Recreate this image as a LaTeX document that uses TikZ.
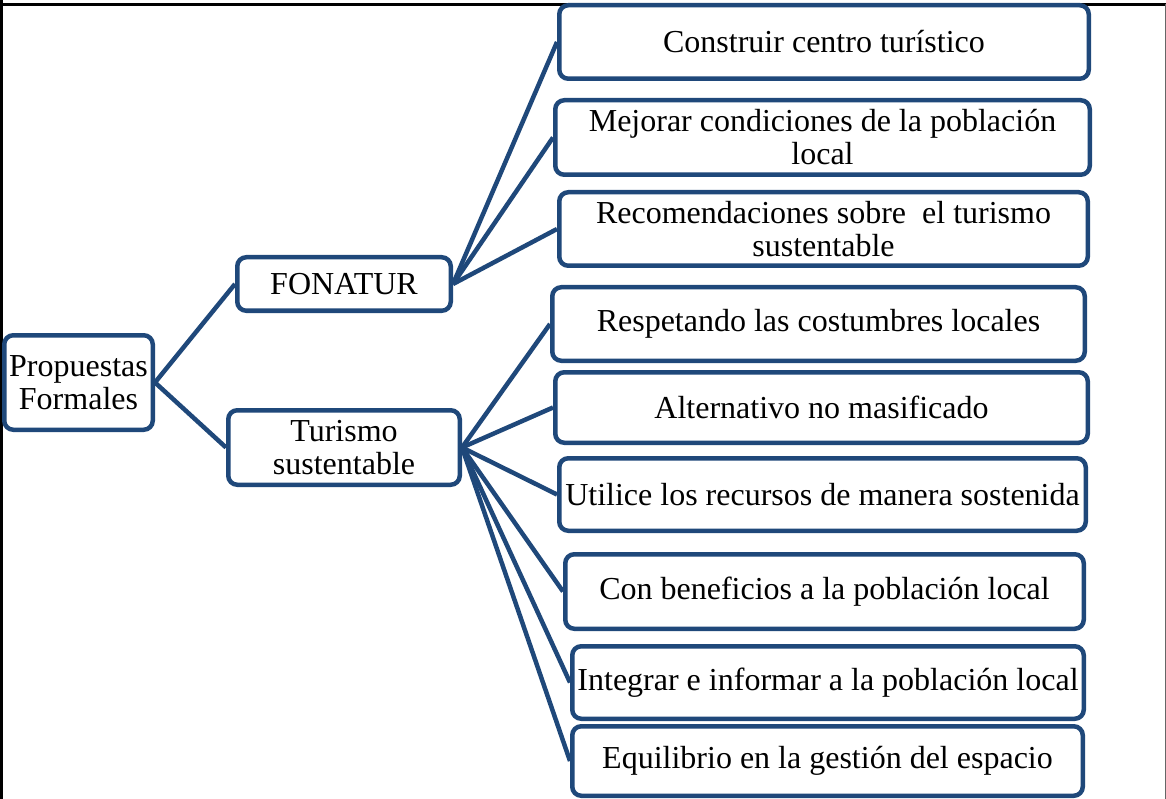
\documentclass[tikz,border=0pt]{standalone}
\usepackage{fontspec}
\setmainfont{Liberation Serif}
\definecolor{boxblue}{RGB}{31,72,122}
\begin{document}
\begin{tikzpicture}[x=1pt,y=-1pt,
  box/.style={draw=boxblue, line width=4.5pt, rounded corners=9pt, fill=white,
    inner sep=0pt, align=center, font=\fontsize{32}{33}\selectfont},
  conn/.style={draw=boxblue, line width=4.5pt}]
\useasboundingbox (0,0) rectangle (1166,799);
% frame
\draw[line width=3pt, black] (1.5,0) -- (1.5,799);
\draw[line width=2.3pt, black] (0,4.5) -- (1166,4.5);
\draw[line width=1pt, black!60] (1165,4.5) -- (1165,799);
% nodes
\node[box, minimum width=148.5pt, minimum height=94.5pt] (P) at (78.5,382.5) {Propuestas\\Formales};
\node[box, minimum width=213.5pt, minimum height=53.5pt] (F) at (344,284) {FONATUR};
\node[box, minimum width=231.5pt, minimum height=74.5pt] (T) at (344,447.5) {Turismo\\sustentable};
\node[box, minimum width=529.5pt, minimum height=73.5pt] (c1) at (824,42) {Construir centro turístico};
\node[box, minimum width=534.5pt, minimum height=74.5pt] (c2) at (822.5,137.5) {Mejorar condiciones de la población\\local};
\node[box, minimum width=528.5pt, minimum height=73.5pt] (c3) at (823.5,229) {Recomendaciones sobre\ \ el turismo\\sustentable};
\node[box, minimum width=532.5pt, minimum height=73.5pt] (c4) at (818.5,324) {Respetando las costumbres locales};
\node[box, minimum width=532.5pt, minimum height=70.5pt] (c5) at (821.5,407.5) {Alternativo no masificado};
\node[box, minimum width=526.5pt, minimum height=72.5pt] (c6) at (822.5,494.5) {Utilice los recursos de manera sostenida};
\node[box, minimum width=518.5pt, minimum height=74.5pt] (c7) at (824.5,591.5) {Con beneficios a la población local};
\node[box, minimum width=511.5pt, minimum height=72.5pt] (c8) at (828,682.5) {Integrar e informar a la población local};
\node[box, minimum width=510.5pt, minimum height=69.5pt] (c9) at (827.5,761) {Equilibrio en la gestión del espacio};
% connectors
\begin{scope}[on background layer/.style={}]
\end{scope}
\draw[conn] (P.east) -- (F.west);
\draw[conn] (P.east) -- (T.west);
\foreach \n in {c1,c2,c3} \draw[conn] (F.east) -- (\n.west);
\foreach \n in {c4,c5,c6,c7,c8,c9} \draw[conn] (T.east) -- (\n.west);
\end{tikzpicture}
\end{document}
